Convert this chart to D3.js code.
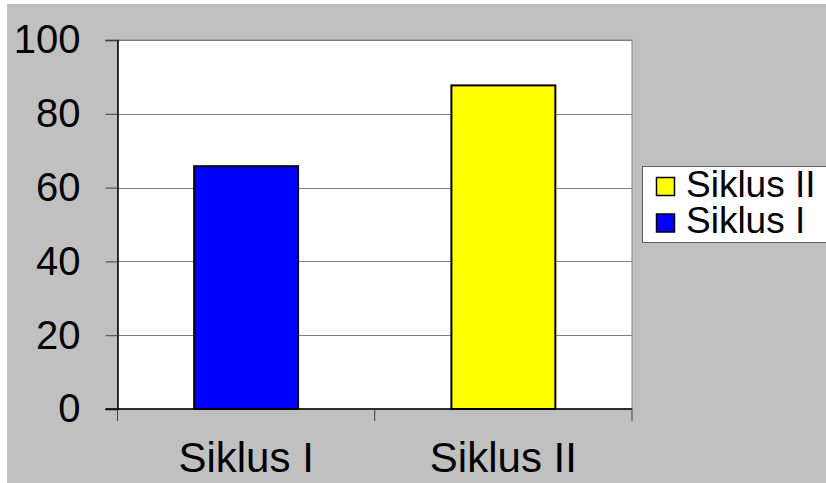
<!DOCTYPE html>
<html>
<head>
<meta charset="utf-8">
<script src="https://cdn.jsdelivr.net/npm/d3@7"></script>
<style>
html,body{margin:0;padding:0;background:#fff;}
svg{display:block;}
text{font-family:"Liberation Sans",Arial,sans-serif;fill:#000;}
</style>
</head>
<body>
<script>
const categories = ["Siklus I", "Siklus II"];
const values = [65.8, 87.7];
const colors = ["#0000ff", "#ffff00"];
const yTicks = [0, 20, 40, 60, 80, 100];
const legendLabels = ["Siklus II", "Siklus I"];
const legendColors = ["#ffff00", "#0000ff"];

(function () {
const W = 826, H = 483;
const svg = d3.select("body").append("svg").attr("width", W).attr("height", H);

svg.append("rect").attr("x", 7).attr("y", 4).attr("width", W - 7).attr("height", H - 4).attr("fill", "#c0c0c0");

const pL = 117.5, pR = 632, pT = 40, pB = 409;
const x = d3.scaleBand().domain(categories).range([pL, pR]).paddingInner(0.596).paddingOuter(0.298);
const y = d3.scaleLinear().domain([0, 100]).range([pB, pT]);

// plot area
svg.append("rect").attr("x", pL).attr("y", pT).attr("width", pR - pL).attr("height", pB - pT)
  .attr("fill", "#fff").attr("stroke", "#808080").attr("stroke-width", 1);

// gridlines
svg.append("g").selectAll("line").data(yTicks.filter(d => d > 0)).join("line")
  .attr("x1", pL).attr("x2", pR).attr("y1", d => Math.round(y(d)) + 0.5).attr("y2", d => Math.round(y(d)) + 0.5)
  .attr("stroke", "#808080").attr("stroke-width", 1);

// bars
svg.append("g").selectAll("rect").data(categories).join("rect")
  .attr("x", d => x(d)).attr("y", (d, i) => y(values[i]))
  .attr("width", x.bandwidth()).attr("height", (d, i) => pB - y(values[i]))
  .attr("fill", (d, i) => colors[i]).attr("stroke", "#000").attr("stroke-width", 2);

// y axis
const yAxis = d3.axisLeft(y).tickValues(yTicks).tickSize(12).tickPadding(25);
const gy = svg.append("g").attr("transform", `translate(${pL},0)`).call(yAxis);
gy.select(".domain").attr("stroke", "#000").attr("stroke-width", 1.5);
gy.selectAll(".tick line").attr("stroke", "#404040");
gy.selectAll("text").attr("font-size", 40).attr("font-family", "Liberation Sans, Arial, sans-serif").attr("fill", "#000");

// x axis
const xPos = d3.scalePoint().domain([0, 1, 2]).range([pL, pR]);
const gx = svg.append("g").attr("transform", `translate(0,${pB})`);
gx.append("line").attr("x1", pL - 12).attr("x2", pR).attr("y1", 0).attr("y2", 0).attr("stroke", "#000").attr("stroke-width", 1.5);
gx.selectAll("line.tk").data([0, 1, 2]).join("line").attr("class", "tk")
  .attr("x1", d => xPos(d)).attr("x2", d => xPos(d)).attr("y1", 0).attr("y2", 12).attr("stroke", "#404040");
gx.selectAll("text").data(categories).join("text")
  .attr("x", d => x(d) + x.bandwidth() / 2).attr("y", 63).attr("text-anchor", "middle")
  .attr("font-size", 42).text(d => d);

// legend
const lg = svg.append("g");
lg.append("rect").attr("x", 642.5).attr("y", 166.5).attr("width", 200).attr("height", 76)
  .attr("fill", "#fff").attr("stroke", "#606060").attr("stroke-width", 1);
legendLabels.forEach((lab, i) => {
  lg.append("rect").attr("x", 656.5).attr("y", 177.5 + i * 36.5).attr("width", 18).attr("height", 18)
    .attr("fill", legendColors[i]).attr("stroke", "#000").attr("stroke-width", 1.5);
  lg.append("text").attr("x", 686).attr("y", 196.5 + i * 36.5).attr("font-size", 37).text(lab);
});
})();
</script>
</body>
</html>
